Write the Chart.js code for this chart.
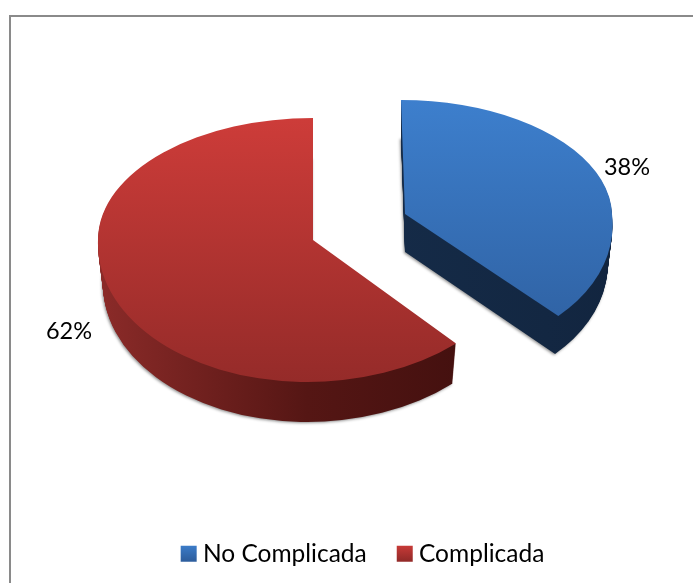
<!DOCTYPE html>
<html>
<head>
<meta charset="utf-8">
<title>Complicada</title>
<script src="https://cdn.jsdelivr.net/npm/chart.js@4"></script>
<style>
  html, body { margin: 0; padding: 0; background: #fff; overflow: hidden; }
  canvas { display: block; }
</style>
</head>
<body>
<canvas id="pieChart" width="693" height="583"></canvas>
<script>
const categories = ['No Complicada', 'Complicada'];
const percents = [38, 62];
const topColors = [['#3d7fcd', '#2e5f9f'], ['#cd3c39', '#952b29']];
const rimColors = [['#17304f', '#12253f'], ['#8c2b29', '#551614', '#3d0e0d']];

// Where each slice lands on the page. up/down and the shears fake the perspective.
const sliceBoxes = [
  { cx: 405, cy: 214, rx: 207, up: 114, down: 140, shearUp: 0.035, shearDown: 0.114, depth: 38, labelX: 627, labelY: 167 },
  { cx: 313, cy: 240, rx: 215, up: 122, down: 142, shearUp: 0, shearDown: -0.04, depth: 40, labelX: 69, labelY: 331 }
];
const RADIUS = 200;

function topGradient(ctx, stops, yFrom, yTo) {
  const g = ctx.createLinearGradient(0, yFrom, 0, yTo);
  stops.forEach((c, i) => g.addColorStop(i / (stops.length - 1), c));
  return g;
}

// draws one arc element squashed into an ellipse, upper and lower part separately
function drawFace(ctx, arc, box, colors, dy, shrink, horizontal) {
  const rx = box.rx * shrink;
  [[box.up, box.shearUp, 0, box.cy + dy], [box.down, box.shearDown, box.cy + dy, 583]].forEach(([ry, shear, clipTop, clipBottom]) => {
    const sy = ry / RADIUS;
    const sx = rx / RADIUS;
    let fill;
    if (horizontal) {
      fill = ctx.createLinearGradient(arc.x - box.rx / sx, 0, arc.x + box.rx / sx, 0);
      colors.forEach((c, i) => fill.addColorStop(i / (colors.length - 1), c));
    } else {
      const toLocal = y => arc.y + (y - box.cy) / sy;
      fill = topGradient(ctx, colors, toLocal(box.cy - box.up), toLocal(box.cy + box.down));
    }
    ctx.save();
    ctx.beginPath();
    ctx.rect(0, clipTop, 693, clipBottom - clipTop);
    ctx.clip();
    ctx.translate(box.cx, box.cy + dy);
    ctx.transform(1, 0, shear, 1, 0, 0);
    ctx.scale(sx, sy);
    ctx.translate(-arc.x, -arc.y);
    const piece = Object.create(arc);
    piece.options = Object.assign({}, arc.options, { backgroundColor: fill, borderWidth: 0, offset: 0, spacing: 0 });
    Chart.ArcElement.prototype.draw.call(piece, ctx);
    ctx.restore();
  });
}

const framePlugin = {
  id: 'frame',
  beforeDraw(chart) {
    const ctx = chart.ctx;
    ctx.save();
    ctx.fillStyle = '#fff';
    ctx.fillRect(0, 0, 693, 583);
    ctx.strokeStyle = '#8a8a8a';
    ctx.lineWidth = 2;
    ctx.beginPath();
    ctx.moveTo(10, 583);
    ctx.lineTo(10, 16);
    ctx.lineTo(693, 16);
    ctx.stroke();
    ctx.restore();
  }
};

const pie3dPlugin = {
  id: 'pie3d',
  beforeDatasetDraw(chart, args) {
    const ctx = chart.ctx;
    const arcs = args.meta.data;
    arcs.forEach((arc, i) => {
      const box = sliceBoxes[i];
      ctx.save();
      ctx.shadowColor = 'rgba(0,0,0,0.45)';
      ctx.shadowBlur = 3;
      ctx.shadowOffsetX = -1;
      ctx.shadowOffsetY = 1;
      drawFace(ctx, arc, box, rimColors[i], box.depth, 1 - 0.023, true);
      ctx.restore();
      for (let d = box.depth - 1; d > 0; d--) {
        drawFace(ctx, arc, box, rimColors[i], d, 1 - 0.023 * d / box.depth, true);
      }
      drawFace(ctx, arc, box, topColors[i], 0, 1, false);
    });
    return false;
  },
  afterDatasetsDraw(chart) {
    const ctx = chart.ctx;
    ctx.save();
    ctx.fillStyle = '#000';
    ctx.font = '23.5px Lato';
    ctx.textAlign = 'center';
    ctx.textBaseline = 'middle';
    percents.forEach((p, i) => {
      ctx.fillText(p + '%', sliceBoxes[i].labelX, sliceBoxes[i].labelY);
    });
    ctx.restore();
  }
};

const ctx = document.getElementById('pieChart').getContext('2d');
const pieChart = new Chart(ctx, {
  type: 'pie',
  data: {
    labels: categories,
    datasets: [{
      data: percents,
      backgroundColor: topColors.map(c => c[0]),
      borderWidth: 0,
      radius: RADIUS,
      clip: false
    }]
  },
  options: {
    responsive: false,
    animation: false,
    layout: { padding: { left: 38, bottom: 7 } },
    plugins: {
      tooltip: { enabled: false },
      legend: {
        position: 'bottom',
        labels: {
          usePointStyle: true,
          boxWidth: 4,
          boxHeight: 16,
          padding: 36,
          color: '#000',
          font: { family: 'Lato', size: 24.5 },
          generateLabels() {
            return categories.map((name, i) => ({
              text: name,
              pointStyle: 'rect',
              fillStyle: topGradient(ctx, topColors[i], 544, 560),
              strokeStyle: 'transparent',
              lineWidth: 0,
              index: i
            }));
          }
        }
      }
    }
  },
  plugins: [framePlugin, pie3dPlugin]
});
</script>
</body>
</html>
